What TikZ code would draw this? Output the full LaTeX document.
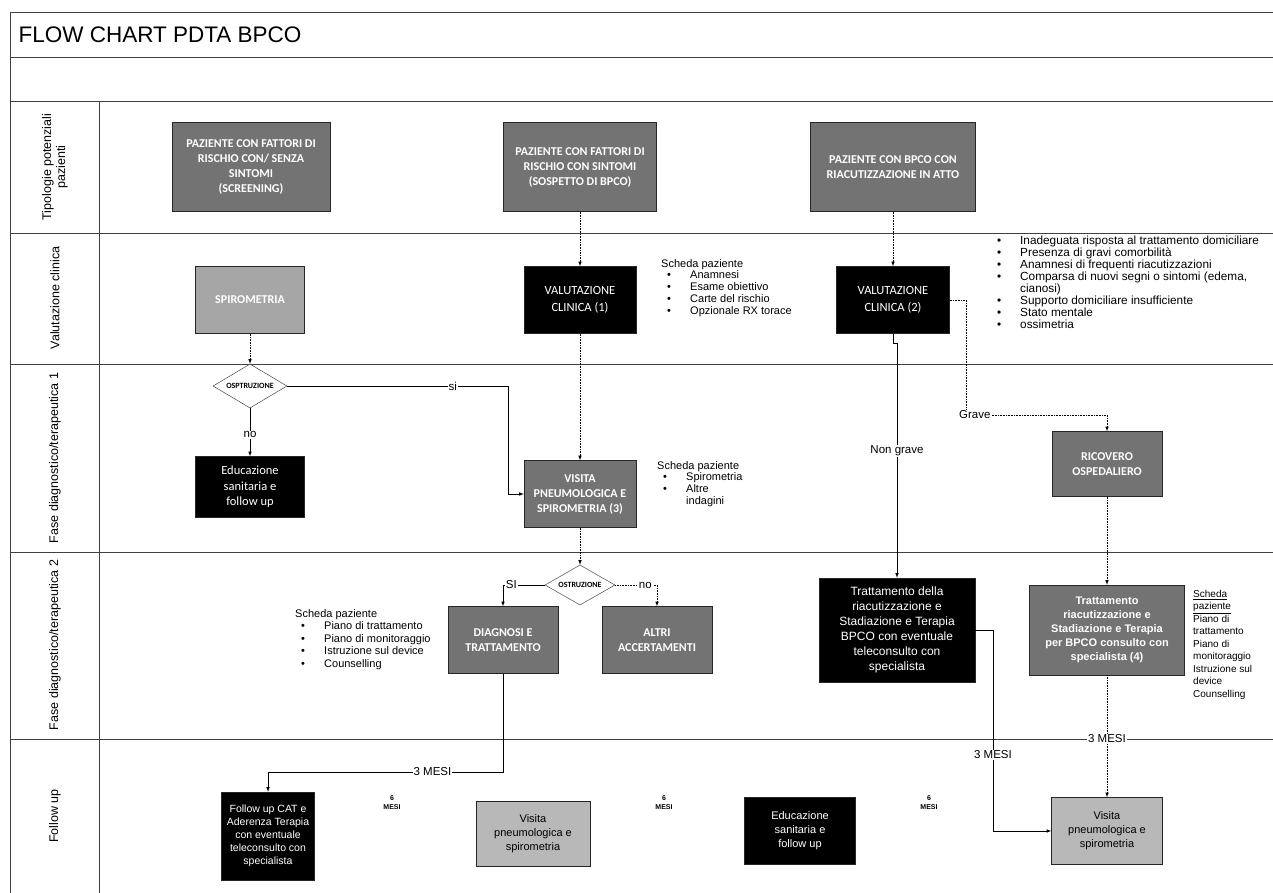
\documentclass[tikz,border=0pt]{standalone}
\usepackage{fontspec}
\setmainfont{Liberation Sans}
\newfontfamily\calib{Carlito}
\usetikzlibrary{positioning,shapes.geometric}

\newcommand{\itm}[1]{\hspace*{6pt}\makebox[23pt][l]{\textbullet}#1}

\begin{document}
\begin{tikzpicture}[x=1pt,y=-1pt]
\tikzstyle{lane}=[draw=black!75, line width=0.9pt]
\tikzstyle{box}=[rectangle, draw=black!85, inner sep=2pt, align=center]
\tikzstyle{dark}=[box, fill=black!55, text=white, font=\calib\bfseries\fontsize{12}{15}\selectfont]
\tikzstyle{pale}=[box, fill=black!35, text=white, font=\calib\bfseries\fontsize{12}{15}\selectfont]
\tikzstyle{blk}=[box, fill=black, text=white, font=\calib\fontsize{12.5}{17}\selectfont]
\tikzstyle{blka}=[box, fill=black, text=white, font=\fontsize{12}{15}\selectfont]
\tikzstyle{soft}=[box, fill=black!28, text=black, font=\fontsize{11}{14}\selectfont]
\tikzstyle{dec}=[diamond, draw=black!85, fill=white, inner sep=1pt, aspect=1.7, font=\calib\bfseries\fontsize{8}{9}\selectfont]
\tikzstyle{note}=[inner sep=0pt, align=left, anchor=north west, font=\fontsize{11}{11.8}\selectfont]
\tikzstyle{lanelab}=[rotate=90, align=center, font=\fontsize{12.5}{14}\selectfont]
\tikzstyle{lbl}=[fill=white, inner sep=1pt, font=\fontsize{11.5}{13}\selectfont]
\tikzstyle{mesi}=[align=center, font=\bfseries\fontsize{7}{9}\selectfont]
\tikzstyle{connect}=[-latex, line width=0.6pt]
\tikzstyle{dconnect}=[connect, densely dotted]
  \useasboundingbox (0,0) rectangle (1273,893);
  % swimlane frame
  \foreach \y in {12,57,101,233,364,552,739}
    \draw[lane] (10,\y) -- (1273,\y);
  \draw[lane] (10,12) -- (10,893);
  \draw[lane] (99,101) -- (99,893);
  \node[anchor=west, font=\fontsize{22.5}{26}\selectfont] (title) at (15,35) {FLOW CHART PDTA BPCO};
  \node[lanelab] (lt) at (55,167) {Tipologie potenziali\\pazienti};
  \node[lanelab] (lv) at (55,298) {Valutazione clinica};
  \node[lanelab] (lf1) at (55,458) {Fase diagnostico/terapeutica 1};
  \node[lanelab] (lf2) at (55,645) {Fase diagnostico/terapeutica 2};
  \node[lanelab] (lfu) at (55,816) {Follow up};
  % tipologie
  \node[dark, minimum width=158, minimum height=89] (p1) at (251,167) {PAZIENTE CON FATTORI DI\\RISCHIO CON/ SENZA\\SINTOMI\\(SCREENING)};
  \node[dark, minimum width=153, minimum height=89] (p2) at (580,167) {PAZIENTE CON FATTORI DI\\RISCHIO CON SINTOMI\\(SOSPETTO DI BPCO)};
  \node[dark, minimum width=165, minimum height=89] (p3) at (893,167) {PAZIENTE CON BPCO CON\\RIACUTIZZAZIONE IN ATTO};
  % valutazione clinica
  \node[pale, minimum width=109, minimum height=67] (spiro) at (250,300) {SPIROMETRIA};
  \node[blk, minimum width=112, minimum height=67] (vc1) at (580,300) {VALUTAZIONE\\CLINICA (1)};
  \node[blk, minimum width=113, minimum height=67] (vc2) at (893,300) {VALUTAZIONE\\CLINICA (2)};
  \node[note] (n1) at (661,259) {Scheda paziente\\\itm{Anamnesi}\\\itm{Esame obiettivo}\\\itm{Carte del rischio}\\\itm{Opzionale RX torace}};
  \node[note, font=\fontsize{11.8}{12}\selectfont] (n2) at (991,236) {\itm{Inadeguata risposta al trattamento domiciliare}\\\itm{Presenza di gravi comorbilità}\\\itm{Anamnesi di frequenti riacutizzazioni}\\\itm{Comparsa di nuovi segni o sintomi (edema,}\\\hspace*{29pt}cianosi)\\\itm{Supporto domiciliare insufficiente}\\\itm{Stato mentale}\\\itm{ossimetria}};
  % fase 1
  \node[dec, minimum width=74, minimum height=44] (osp) at (250,386) {OSPTRUZIONE};
  \node[blk, minimum width=109, minimum height=61, font=\calib\fontsize{12.5}{15.5}\selectfont] (edu1) at (250,487) {Educazione\\sanitaria e\\follow up};
  \node[dark, minimum width=112, minimum height=67] (vis3) at (580,494) {VISITA\\PNEUMOLOGICA E\\SPIROMETRIA (3)};
  \node[note] (n3) at (657,461) {Scheda paziente\\\itm{Spirometria}\\\itm{Altre}\\\hspace*{29pt}indagini};
  \node[dark, minimum width=110, minimum height=65] (ric) at (1107,464) {RICOVERO\\OSPEDALIERO};
  % fase 2
  \node[dec, minimum width=70, minimum height=40] (ostr) at (580,585) {OSTRUZIONE};
  \node[dark, minimum width=110, minimum height=67] (diag) at (503,640) {DIAGNOSI E\\TRATTAMENTO};
  \node[dark, minimum width=110, minimum height=67] (altri) at (657,640) {ALTRI\\ACCERTAMENTI};
  \node[note, font=\fontsize{11}{12.6}\selectfont] (n4) at (295,609) {Scheda paziente\\\itm{Piano di trattamento}\\\itm{Piano di monitoraggio}\\\itm{Istruzione sul device}\\\itm{Counselling}};
  \node[blka, minimum width=156, minimum height=104] (tratt) at (897,630) {Trattamento della\\riacutizzazione e\\Stadiazione e Terapia\\BPCO con eventuale\\teleconsulto con\\specialista};
  \node[dark, minimum width=155, minimum height=90, font=\bfseries\fontsize{11}{14}\selectfont] (tratt4) at (1107,630) {Trattamento\\riacutizzazione e\\Stadiazione e Terapia\\per BPCO consulto con\\specialista (4)};
  \node[note, font=\fontsize{10}{12.5}\selectfont] (n5) at (1193,590) {\underline{Scheda}\\\underline{paziente}\\Piano di\\trattamento\\Piano di\\monitoraggio\\Istruzione sul\\device\\Counselling};
  % follow up
  \node[blka, minimum width=93, minimum height=88, font=\fontsize{10.5}{13}\selectfont] (fucat) at (268,836) {Follow up CAT e\\Aderenza Terapia\\con eventuale\\teleconsulto con\\specialista};
  \node[soft, minimum width=114, minimum height=65] (vis5a) at (533,834) {Visita\\pneumologica e\\spirometria};
  \node[blka, minimum width=111, minimum height=67, font=\fontsize{11}{14}\selectfont] (edu5) at (800,831) {Educazione\\sanitaria e\\follow up};
  \node[soft, minimum width=111, minimum height=67] (vis5b) at (1107,831) {Visita\\pneumologica e\\spirometria};
  \node[mesi] (m1) at (392,803) {6\\MESI};
  \node[mesi] (m2) at (664,803) {6\\MESI};
  \node[mesi] (m3) at (929,803) {6\\MESI};
  % connectors
  \coordinate (sibend) at (508,386);
  \coordinate (njog) at (893,343);
  \coordinate (grbend) at (966,415);
  \coordinate (fubend) at (503,772);
  \coordinate (trbend) at (993,630);
  \path (p2) edge [dconnect] (vc1)
        (p3) edge [dconnect] (vc2)
        (spiro) edge [dconnect] (osp)
        (vc1) edge [dconnect] (vis3)
        (ric) edge [dconnect] (tratt4)
        (vis3) edge [dconnect] (ostr)
        (osp) edge [connect] node[lbl, pos=0.55] {no} (edu1);
  \draw[connect] (osp.east) -- node[lbl, pos=0.75] {si} (sibend) |- (vis3.west);
  \draw[connect] (vc2.south) -- (njog) -| node[lbl, pos=0.73] {Non grave} (tratt.north);
  \draw[dconnect] (vc2.east) -| (grbend) -| (ric.north);
  \node[lbl, anchor=west] (grave) at (958,415) {Grave};
  \draw[connect] (ostr.west) -| node[lbl, pos=0.4] {SI} (diag.north);
  \draw[dconnect] (ostr.east) -| node[lbl, pos=0.36] {no} (altri.north);
  \draw[connect] (diag.south) -- (fubend) -| node[lbl, pos=0.15] {3 MESI} (fucat.north);
  \draw[connect] (tratt.east) -- (trbend) |- node[lbl, pos=0.31] {3 MESI} (vis5b.west);
  \draw[dconnect] (tratt4) -- node[lbl, pos=0.52] {3 MESI} (vis5b);
\end{tikzpicture}
\end{document}
